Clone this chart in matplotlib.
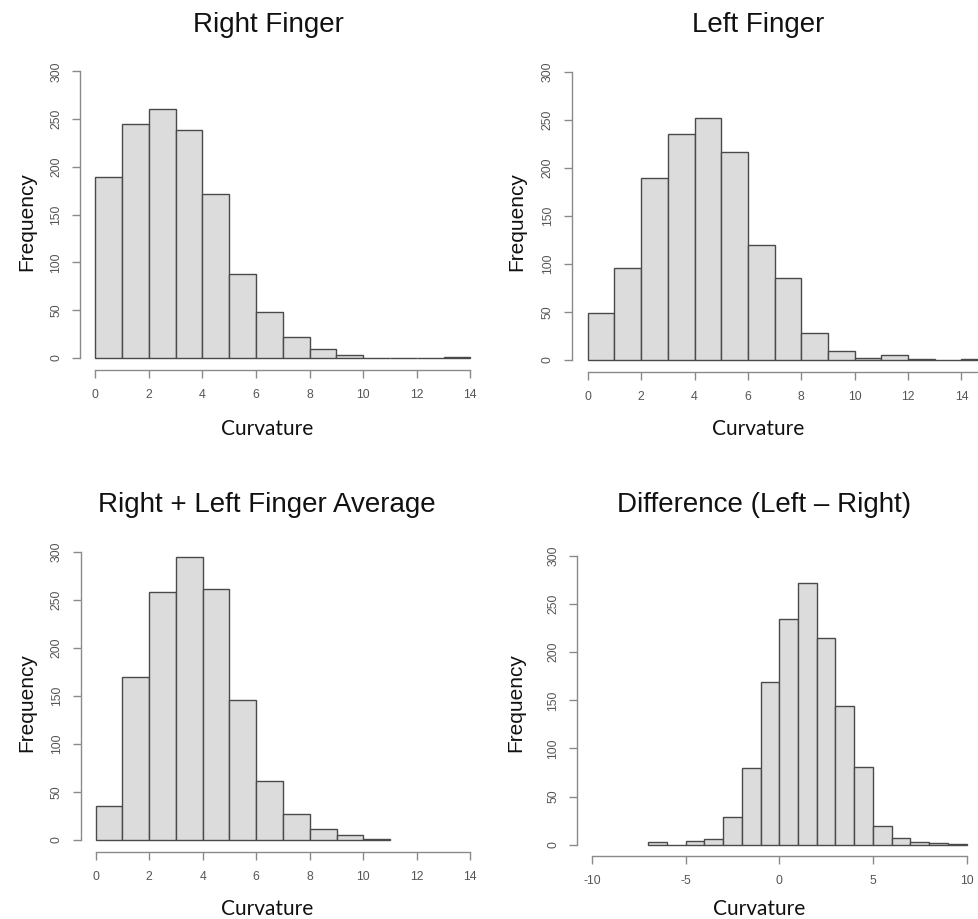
import matplotlib
matplotlib.use("Agg")
import matplotlib.pyplot as plt
import numpy as np

# bin counts (unit-width bins)
right_edges = list(range(0, 14))
right_counts = [189, 245, 261, 239, 172, 88, 48, 22, 9, 3, 0, 0, 0, 1]

left_edges = list(range(0, 15))
left_counts = [49, 96, 189, 235, 252, 216, 120, 85, 28, 9, 2, 5, 1, 0, 1]

avg_edges = list(range(0, 11))
avg_counts = [35, 170, 258, 295, 261, 146, 61, 27, 11, 5, 1]

diff_edges = list(range(-7, 10))
diff_counts = [3, 0, 4, 6, 29, 80, 169, 235, 272, 215, 144, 81, 19, 7, 3, 2, 1]

titles = ["Right Finger", "Left Finger", "Right + Left Finger Average",
          "Difference (Left \u2013 Right)"]

W, H = 979, 919
FILL = "#dcdcdc"
EDGE = "#4a4a4a"
AXC = "#8a8a8a"
TICKC = "#555555"
SANS = "Liberation Sans"

plt.rcParams["axes.unicode_minus"] = False  # R prints plain hyphens: "-10"


def px_axes(fig, l, r, t, b):
    return fig.add_axes([l / W, 1 - b / H, (r - l) / W, (b - t) / H])


def style(ax, xlim, xticks, xbounds):
    ax.set_xlim(*xlim)
    ax.set_ylim(-12, 312)
    for s in ("top", "right"):
        ax.spines[s].set_visible(False)
    for s in ("left", "bottom"):
        ax.spines[s].set_color(AXC)
        ax.spines[s].set_linewidth(1.0)
    ax.spines["left"].set_bounds(0, 300)
    ax.spines["bottom"].set_bounds(*xbounds)
    ax.set_yticks([0, 50, 100, 150, 200, 250, 300])
    ax.set_xticks(xticks)
    ax.tick_params(length=5.8, width=1.0, color=AXC, labelcolor=TICKC,
                   labelsize=8.8)
    ax.tick_params(axis="x", pad=8)
    ax.tick_params(axis="y", pad=7)
    for lab in ax.get_yticklabels():
        lab.set_rotation(90)
        lab.set_va("center")
        lab.set_ha("right")
        lab.set_family(SANS)
    for lab in ax.get_xticklabels():
        lab.set_family(SANS)
    ax.patch.set_alpha(0)


fig = plt.figure(figsize=(W / 100, H / 100), dpi=100)

# the left-finger panel runs off the right edge of the picture, as in the source
panels = [
    (right_edges, right_counts, (80.3, 485.3, 59.8, 369.5), (-0.56, 14.56),
     list(range(0, 15, 2)), (0, 14)),
    (left_edges, left_counts, (571.7, 1004.2, 60.2, 371.5), (-0.6, 15.6),
     list(range(0, 15, 2)), (0, 16)),
    (avg_edges, avg_counts, (80.7, 485.3, 540.2, 851.5), (-0.56, 14.56),
     list(range(0, 15, 2)), (0, 14)),
    (diff_edges, diff_counts, (577.0, 981.6, 544.5, 856.2), (-10.8, 10.8),
     [-10, -5, 0, 5, 10], (-10, 10)),
]

for edges, counts, box, xlim, xticks, xb in panels:
    ax = px_axes(fig, *box)
    ax.bar(edges, counts, width=1, align="edge", color=FILL,
           edgecolor=EDGE, linewidth=1.0)
    style(ax, xlim, xticks, xb)

# titles, axis labels placed in pixel coordinates
title_pos = [(268, 32), (758, 32), (267, 512), (764, 512)]
for t, (x, y) in zip(titles, title_pos):
    fig.text(x / W, 1 - y / H, t, ha="center", va="baseline",
             fontsize=20, family=SANS, color="#111111")

for x, y in [(267, 435), (758, 435), (267, 915), (759, 915)]:
    fig.text(x / W, 1 - y / H, "Curvature", ha="center", va="baseline",
             fontsize=15, family="Lato", color="#111111")

for x, y in [(27, 222), (517, 222), (27, 703), (516, 703)]:
    fig.text(x / W, 1 - y / H, "Frequency", ha="center", va="center",
             rotation=90, fontsize=15, family=SANS, color="#111111")

fig.savefig("out.png", dpi=100)
